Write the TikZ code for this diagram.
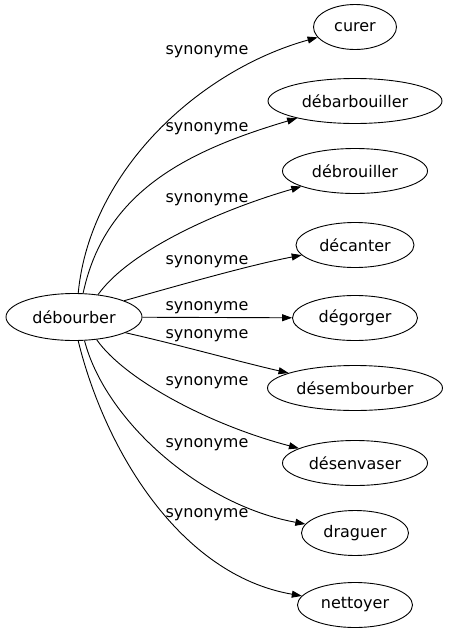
\documentclass[tikz,border=0pt]{standalone}
\usepackage{fontspec}
\setmainfont{DejaVu Sans}
\usepackage{tikz}
\usetikzlibrary{arrows.meta,shapes.geometric}

\begin{document}
\begin{tikzpicture}[
        x=1pt, y=-1pt,
        font=\fontsize{16}{19}\selectfont,
        word/.style={
            ellipse,
            draw=black,
            line width=0.9pt,
            minimum height=45pt,
            inner sep=0pt
        },
        sarr/.style={-{Triangle[length=10pt, width=7pt]}, line width=0.9pt, draw=black},
        rel/.style={inner sep=0pt}
    ]
        \path[fill=white, use as bounding box] (0,0) rectangle (448,635);

        \node[word, minimum width=136pt, minimum height=47pt] (src) at (74,317) {débourber};

        \node[word, minimum width=83pt]  (curer)  at (355,27)  {curer};
        \node[word, minimum width=174pt] (debarb) at (355,101) {débarbouiller};
        \node[word, minimum width=145pt] (debrou) at (355,171) {débrouiller};
        \node[word, minimum width=118pt] (decant) at (355,245) {décanter};
        \node[word, minimum width=125pt] (degorg) at (355,318) {dégorger};
        \node[word, minimum width=175pt] (desemb) at (355,388) {désembourber};
        \node[word, minimum width=145pt] (desenv) at (355,463) {désenvaser};
        \node[word, minimum width=107pt] (drag)   at (355,533) {draguer};
        \node[word, minimum width=115pt] (nett)   at (355,605) {nettoyer};

        \draw[sarr] (src.80)  .. controls (90,170)  and (200,70)  .. (curer);
        \draw[sarr] (src.69)  .. controls (105,190) and (190,150) .. (debarb);
        \draw[sarr] (src.43)  .. controls (130,250) and (220,210) .. (debrou);
        \draw[sarr] (src.18)  .. controls (180,285) and (250,265) .. (decant);
        \draw[sarr] (src) -- (degorg);
        \draw[sarr] (src.-17) .. controls (180,345) and (240,362) .. (desemb);
        \draw[sarr] (src.-45) .. controls (125,380) and (210,425) .. (desenv);
        \draw[sarr] (src.-66) .. controls (105,420) and (200,505) .. (drag);
        \draw[sarr] (src.-80) .. controls (105,450) and (180,575) .. (nett);

        % edge labels
        \node[rel] (l1) at (207,52)    {synonyme};
        \node[rel] (l2) at (207,129)   {synonyme};
        \node[rel] (l3) at (207,199.5) {synonyme};
        \node[rel] (l4) at (207,261.5) {synonyme};
        \node[rel] (l5) at (207,307.5) {synonyme};
        \node[rel] (l6) at (207,335.5) {synonyme};
        \node[rel] (l7) at (207,383)   {synonyme};
        \node[rel] (l8) at (207,444.5) {synonyme};
        \node[rel] (l9) at (207,515)   {synonyme};
    \end{tikzpicture}
\end{document}
